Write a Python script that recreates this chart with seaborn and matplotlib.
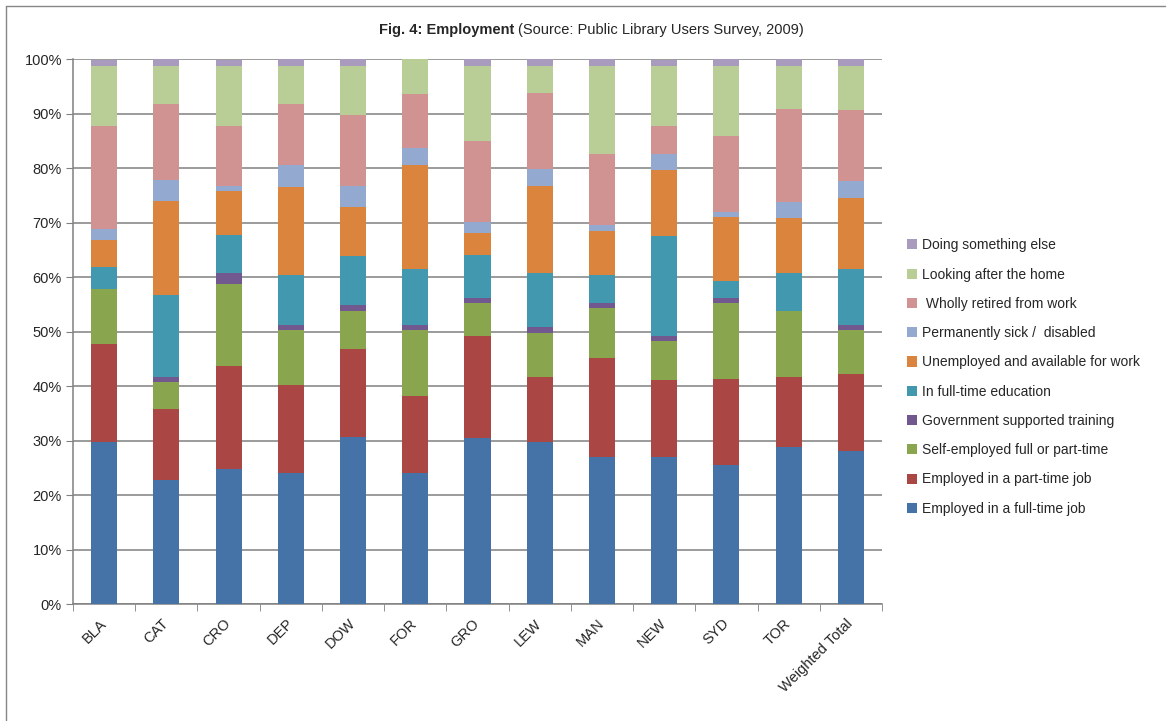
import numpy as np
import pandas as pd
import seaborn as sns
import matplotlib.pyplot as plt
from matplotlib.patches import Patch
from matplotlib.ticker import FuncFormatter

# Dati (percentuali)
libraries = ["BLA", "CAT", "CRO", "DEP", "DOW", "FOR", "GRO", "LEW", "MAN", "NEW", "SYD", "TOR", "Weighted Total"]

full_time = [29.8, 22.8, 24.8, 24.0, 30.7, 24.0, 30.5, 29.8, 27.0, 27.0, 25.5, 28.8, 28.1]
part_time = [17.9, 13.0, 18.9, 16.2, 16.1, 14.2, 18.7, 11.9, 18.2, 14.1, 15.8, 12.9, 14.1]
self_employed = [10.1, 5.0, 15.1, 10.1, 7.0, 12.1, 6.1, 8.1, 9.1, 7.2, 14.0, 12.1, 8.1]
gov_training = [0.0, 0.9, 2.0, 0.9, 1.1, 0.9, 0.9, 1.1, 1.0, 0.9, 0.9, 0.0, 0.9]
education = [4.1, 15.0, 6.9, 9.2, 9.0, 10.3, 7.9, 9.9, 5.1, 18.4, 3.1, 7.0, 10.3]
unemployed = [4.9, 17.2, 8.1, 16.2, 9.0, 19.1, 4.0, 15.9, 8.1, 12.1, 11.7, 10.1, 13.0]
sick = [2.0, 4.0, 0.9, 4.0, 3.9, 3.2, 2.1, 3.2, 1.1, 2.9, 1.0, 2.9, 3.2]
retired = [18.9, 13.9, 11.0, 11.2, 13.0, 9.8, 14.8, 13.9, 13.0, 5.1, 13.9, 17.1, 13.0]
home = [11.0, 7.0, 11.0, 7.0, 9.0, 6.4, 13.8, 5.0, 16.2, 11.0, 12.9, 7.9, 8.1]
other = [1.2, 1.2, 1.2, 1.2, 1.2, 0.0, 1.2, 1.2, 1.2, 1.2, 1.2, 1.2, 1.2]

categories = ["Employed in a full-time job", "Employed in a part-time job",
              "Self-employed full or part-time", "Government supported training",
              "In full-time education", "Unemployed and available for work",
              "Permanently sick /  disabled", " Wholly retired from work",
              "Looking after the home", "Doing something else"]

colors = ["#4572A7", "#AA4643", "#89A54E", "#71588F", "#4198AF",
          "#DB843D", "#93A9CF", "#D19392", "#B9CD96", "#A99BBD"]

series = [full_time, part_time, self_employed, gov_training, education,
          unemployed, sick, retired, home, other]

df = pd.DataFrame(dict(zip(categories, series)), index=libraries)
cum = df.cumsum(axis=1)

sns.set_style("white")
plt.rcParams['font.family'] = ['Liberation Sans', 'DejaVu Sans']

fig = plt.figure(figsize=(11.69, 7.21), dpi=100)
ax = fig.add_axes([73 / 1169, 1 - 604 / 721, 809 / 1169, (604 - 59.3) / 721])

# barre sovrapposte: dalla somma cumulata piu' alta alla piu' bassa
for i in range(len(categories) - 1, -1, -1):
    col = categories[i]
    sns.barplot(x=libraries, y=cum[col].values, color=colors[i], width=0.42,
                saturation=1, edgecolor="none", linewidth=0, ax=ax, zorder=3)

ax.set_xlim(-0.5, len(libraries) - 0.5)
ax.set_ylim(0, 100)
ax.set_yticks(np.arange(0, 101, 10))
ax.yaxis.set_major_formatter(FuncFormatter(lambda v, p: f"{int(v)}%"))
ax.yaxis.grid(True, color="#808080", linewidth=1.1, zorder=0)
ax.set_axisbelow(True)
ax.set_xlabel("")
ax.set_ylabel("")

for s in ["top", "right"]:
    ax.spines[s].set_visible(False)
for s in ["left", "bottom"]:
    ax.spines[s].set_color("#808080")
    ax.spines[s].set_linewidth(1.1)

ax.tick_params(axis="y", left=True, length=5, color="#808080", labelsize=10.5, pad=3)
ax.set_xticks(range(len(libraries)))
ax.set_xticklabels(libraries, rotation=45, ha="right", va="center",
                   rotation_mode="anchor", fontsize=10.5)
ax.tick_params(axis="x", bottom=False, pad=9)
# tacche tra le categorie
ax.set_xticks(np.arange(-0.5, len(libraries), 1), minor=True)
ax.tick_params(axis="x", which="minor", bottom=True, length=5, color="#808080")

# legenda (ordine invertito)
handles = [Patch(facecolor=colors[i], edgecolor="none", label=categories[i])
           for i in range(len(categories) - 1, -1, -1)]
fig.legend(handles=handles, loc="center left", bbox_to_anchor=(894 / 1169, 1 - 377 / 721),
           frameon=False, fontsize=10, handlelength=0.75, handleheight=0.75,
           handletextpad=0.4, labelspacing=1.1)

# titolo
fig.text(514 / 1169, 1 - 30 / 721, "Fig. 4: Employment", ha="right", va="center",
         fontsize=10.5, fontweight="bold")
fig.text(518 / 1169, 1 - 30 / 721, "(Source: Public Library Users Survey, 2009)",
         ha="left", va="center", fontsize=10.5)

# bordo esterno
fig.add_artist(plt.Line2D([6 / 1169, 6 / 1169], [0, 1 - 6 / 721], transform=fig.transFigure,
                          color="#868686", linewidth=1))
fig.add_artist(plt.Line2D([6 / 1169, 1165 / 1169], [1 - 6 / 721, 1 - 6 / 721],
                          transform=fig.transFigure, color="#868686", linewidth=1))

fig.savefig("out.png", dpi=100)
